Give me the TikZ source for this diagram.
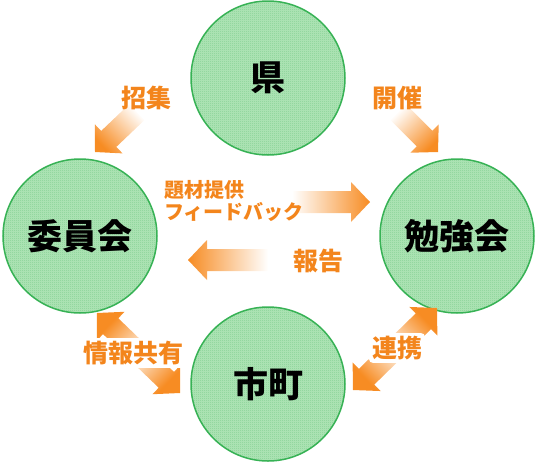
\documentclass[tikz,border=0pt]{standalone}
\usepackage{fontspec}
\newfontfamily\jp{Noto Sans CJK JP}
\usetikzlibrary{calc,patterns}
\definecolor{cfill}{RGB}{170,226,178}
\definecolor{cdot}{RGB}{118,202,134}
\definecolor{cline}{RGB}{55,178,85}
\definecolor{aor}{RGB}{247,140,35}
\definecolor{tor}{RGB}{243,133,28}
\pgfdeclarepatternformonly{finedots}{\pgfpointorigin}{\pgfpoint{2pt}{2pt}}{\pgfpoint{2pt}{2pt}}{\pgfpathrectangle{\pgfpointorigin}{\pgfpoint{1pt}{1pt}}\pgfusepath{fill}}
\tikzset{
  circ/.style={circle, draw=cline, line width=1.5pt, minimum size=154pt, inner sep=0pt,
    preaction={fill=cfill}, pattern=finedots, pattern color=cdot,
    font=\jp\bfseries\fontsize{35}{35}\selectfont},
  lbl/.style={text=tor, inner sep=0pt, font=\jp\bfseries\fontsize{25}{25}\selectfont},
  halo/.style={fill=white, rounded corners=4pt, inner sep=3pt},
  slbl/.style={text=tor, inner sep=0pt, align=left, font=\jp\bfseries\fontsize{20}{22}\selectfont},
}
% single arrow: #1 tail, #2 tip, #3 shading angle
\newcommand\sarrow[3]{%
  \coordinate (#2b) at ($(#2)!19pt!(#1)$);
  \shade[top color=aor, bottom color=white, shading angle=#3]
    ($(#1)!11pt!90:(#2)$) -- ($(#2b)!11pt!90:(#2)$) -- ($(#2b)!20pt!90:(#2)$) -- (#2)
    -- ($(#2b)!20pt!-90:(#2)$) -- ($(#2b)!11pt!-90:(#2)$) -- ($(#1)!11pt!-90:(#2)$) -- cycle;
}
% double arrow: #1 tip, #2 tip, #3 shading angle
\newcommand\darrow[3]{%
  \coordinate (#1b) at ($(#1)!19pt!(#2)$);
  \coordinate (#2b) at ($(#2)!19pt!(#1)$);
  \shade[top color=aor, bottom color=aor, middle color=aor!12, shading angle=#3]
    (#1) -- ($(#1b)!20pt!90:(#2)$) -- ($(#1b)!11pt!90:(#2)$) -- ($(#2b)!11pt!90:(#2)$)
    -- ($(#2b)!20pt!90:(#2)$) -- (#2) -- ($(#2b)!20pt!-90:(#2)$) -- ($(#2b)!11pt!-90:(#2)$)
    -- ($(#1b)!11pt!-90:(#2)$) -- ($(#1b)!20pt!-90:(#2)$) -- cycle;
}
\begin{document}
\begin{tikzpicture}[x=1pt,y=-1pt]
\useasboundingbox (0,0) rectangle (536,464);
% circles
\node[circ] (ken) at (268,78) {県};
\node[circ] (iin) at (80,236) {委員会};
\node[circ] (ben) at (457,236) {勉強会};
\node[circ] (shi) at (268,384) {市町};
% arrow end points
\coordinate (a1t) at (137,112); \coordinate (a1p) at (95,152);
\coordinate (a2t) at (398,112); \coordinate (a2p) at (438,152);
\coordinate (a3t) at (292,202); \coordinate (a3p) at (370,202);
\coordinate (a4t) at (268,260); \coordinate (a4p) at (188,260);
\coordinate (d1a) at (97,313);  \coordinate (d1b) at (180,393);
\coordinate (d2a) at (437,308); \coordinate (d2b) at (353,390);
\sarrow{a1t}{a1p}{133.6}
\sarrow{a2t}{a2p}{-135}
\sarrow{a3t}{a3p}{-90}
\sarrow{a4t}{a4p}{90}
\darrow{d1a}{d1b}{46}
\darrow{d2a}{d2b}{134}
% labels
\node[lbl] (l1) at (146,98) {招集};
\node[lbl] (l2) at (397,98) {開催};
\node[slbl, anchor=west] (l3) at (164,201) {題材提供\\フィードバック};
\node[lbl] (l4) at (318,261) {報告};
\node[lbl, halo] (l5) at (133,353) {情報共有};
\node[lbl, halo] (l6) at (397,348) {連携};
\end{tikzpicture}
\end{document}
